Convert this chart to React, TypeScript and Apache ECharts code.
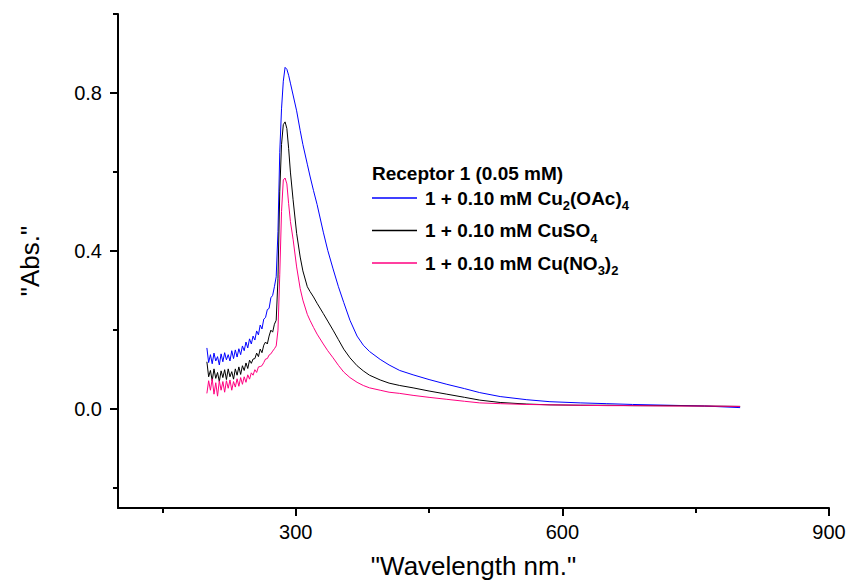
import React, { useEffect, useRef } from "react";
import * as echarts from "echarts";

// Wavelengths (nm)
const wavelengths: number[] = [
  200, 202, 204, 206, 208, 210, 212, 214, 216, 218, 220, 222, 224, 226, 228, 230, 232, 234, 236, 238,
  240, 242, 244, 246, 248, 250, 252, 254, 256, 258, 260, 262, 264, 266, 268, 270, 272, 274, 276, 278,
  280, 282, 284, 286, 288, 290, 292, 294, 297, 301, 305, 308, 313, 316, 320, 324, 331, 336, 342, 348,
  354, 361, 369, 376, 383, 395, 405, 417, 432, 450, 470, 490, 507, 530, 560, 586, 620, 650, 679, 720,
  760, 800,
];

// 1 + 0.10 mM Cu2(OAc)4  (blue)
const absOAc: number[] = [
  0.155, 0.118, 0.138, 0.115, 0.142, 0.122, 0.133, 0.112, 0.14, 0.12, 0.143, 0.125, 0.138, 0.122, 0.148, 0.128, 0.15, 0.132, 0.153, 0.138,
  0.16, 0.148, 0.17, 0.155, 0.178, 0.165, 0.185, 0.175, 0.198, 0.188, 0.213, 0.203, 0.228, 0.232, 0.252, 0.255, 0.282, 0.288, 0.31, 0.335,
  0.45, 0.65, 0.76, 0.83, 0.865, 0.86, 0.845, 0.825, 0.795, 0.755, 0.705, 0.67, 0.62, 0.59, 0.553, 0.518, 0.448, 0.402, 0.355, 0.31,
  0.27, 0.225, 0.185, 0.162, 0.146, 0.126, 0.112, 0.098, 0.087, 0.075, 0.063, 0.052, 0.042, 0.032, 0.024, 0.019, 0.016, 0.014, 0.012, 0.01,
  0.008, 0.004,
];

// 1 + 0.10 mM CuSO4  (black)
const absSO4: number[] = [
  0.12, 0.082, 0.098, 0.072, 0.102, 0.078, 0.093, 0.07, 0.097, 0.08, 0.1, 0.075, 0.102, 0.082, 0.095, 0.076, 0.102, 0.086, 0.107, 0.088,
  0.11, 0.098, 0.117, 0.103, 0.124, 0.116, 0.127, 0.128, 0.142, 0.133, 0.152, 0.143, 0.162, 0.17, 0.165, 0.185, 0.2, 0.195, 0.215, 0.225,
  0.33, 0.55, 0.67, 0.72, 0.727, 0.71, 0.66, 0.6, 0.53, 0.445, 0.385, 0.35, 0.31, 0.298, 0.284, 0.268, 0.242, 0.223, 0.2, 0.176,
  0.152, 0.13, 0.11, 0.097, 0.086, 0.074, 0.066, 0.06, 0.054, 0.046, 0.038, 0.03, 0.023, 0.017, 0.013, 0.011, 0.01, 0.01, 0.009, 0.009,
  0.008, 0.007,
];

// 1 + 0.10 mM Cu(NO3)2  (pink)
const absNO3: number[] = [
  0.04, 0.072, 0.048, 0.077, 0.038, 0.067, 0.033, 0.072, 0.048, 0.07, 0.043, 0.072, 0.053, 0.074, 0.048, 0.07, 0.056, 0.077, 0.058, 0.08,
  0.063, 0.082, 0.068, 0.087, 0.076, 0.092, 0.086, 0.1, 0.093, 0.107, 0.108, 0.11, 0.118, 0.127, 0.128, 0.137, 0.14, 0.147, 0.153, 0.16,
  0.2, 0.34, 0.5, 0.58, 0.585, 0.57, 0.52, 0.475, 0.43, 0.36, 0.305, 0.276, 0.24, 0.225, 0.207, 0.19, 0.165, 0.148, 0.13, 0.111,
  0.094, 0.08, 0.068, 0.06, 0.054, 0.048, 0.043, 0.04, 0.035, 0.03, 0.025, 0.02, 0.016, 0.014, 0.012, 0.011, 0.01, 0.009, 0.009, 0.008,
  0.008, 0.007,
];

const seriesNames: string[] = [
  "1 + 0.10 mM Cu2(OAc)4",
  "1 + 0.10 mM CuSO4",
  "1 + 0.10 mM Cu(NO3)2",
];
const seriesRich: string[] = [
  "1 + 0.10 mM Cu{s|2}(OAc){s|4}",
  "1 + 0.10 mM CuSO{s|4}",
  "1 + 0.10 mM Cu(NO{s|3}){s|2}",
];
const seriesColors: string[] = ["#0000ff", "#000000", "#ff0080"];
const legendTitle = "Receptor 1 (0.05 mM)";

const xMajorTicks: number[] = [300, 600, 900];
const xMinorTicks: number[] = [150, 450, 750];
const yMajorTicks: number[] = [0, 0.4, 0.8];
const yMinorTicks: number[] = [-0.2, 0.2, 0.6, 1.0];

const FONT = "'Liberation Sans', Arial, Helvetica, sans-serif";

export default function App() {
  const ref = useRef<HTMLDivElement>(null);
  useEffect(() => {
    if (!ref.current) return;
    const chart = echarts.init(ref.current, undefined, { renderer: "svg" });
    const allValues = [absOAc, absSO4, absNO3];
    const grid = { left: 118, right: 20, top: 14, bottom: 78 };
    const axisLineStyle = { color: "#000", width: 2 };
    chart.setOption({
      animation: false,
      backgroundColor: "#fff",
      grid,
      xAxis: [
        {
          type: "value",
          min: 100,
          max: 900,
          position: "bottom",
          name: '"Wavelength nm."',
          nameLocation: "middle",
          nameGap: 45,
          nameTextStyle: { fontSize: 26, fontFamily: FONT, color: "#000" },
          axisLine: { show: true, onZero: false, lineStyle: axisLineStyle },
          axisTick: { show: true, customValues: xMajorTicks, length: 8, lineStyle: { width: 2, color: "#000" } },
          axisLabel: { show: true, customValues: xMajorTicks, margin: 14, fontSize: 20, fontFamily: FONT, color: "#000" },
          splitLine: { show: false },
        },
        {
          type: "value",
          min: 100,
          max: 900,
          position: "bottom",
          axisLine: { show: false, onZero: false },
          axisTick: { show: true, customValues: xMinorTicks, length: 5, lineStyle: { width: 2, color: "#000" } },
          axisLabel: { show: false },
          splitLine: { show: false },
        },
      ],
      yAxis: [
        {
          type: "value",
          min: -0.25,
          max: 1.0,
          position: "left",
          name: '"Abs."',
          nameLocation: "middle",
          nameGap: 75,
          nameRotate: 90,
          nameTextStyle: { fontSize: 26, fontFamily: FONT, color: "#000" },
          axisLine: { show: true, onZero: false, lineStyle: axisLineStyle },
          axisTick: { show: true, customValues: yMajorTicks, length: 8, lineStyle: { width: 2, color: "#000" } },
          axisLabel: {
            show: true,
            customValues: yMajorTicks,
            margin: 16,
            fontSize: 20,
            fontFamily: FONT,
            color: "#000",
            formatter: (v: number) => v.toFixed(1),
          },
          splitLine: { show: false },
        },
        {
          type: "value",
          min: -0.25,
          max: 1.0,
          position: "left",
          axisLine: { show: false, onZero: false },
          axisTick: { show: true, customValues: yMinorTicks, length: 5, lineStyle: { width: 2, color: "#000" } },
          axisLabel: { show: false },
          splitLine: { show: false },
        },
      ],
      legend: {
        orient: "vertical",
        left: 372,
        top: 186,
        padding: 0,
        icon: "rect",
        itemWidth: 45,
        itemHeight: 1.5,
        itemGap: 6.5,
        data: seriesNames,
        formatter: (name: string) => seriesRich[seriesNames.indexOf(name)],
        textStyle: {
          fontSize: 19,
          fontWeight: "bold",
          fontFamily: FONT,
          color: "#000",
          lineHeight: 24,
          padding: [0, 0, 0, 3],
          rich: {
            s: {
              fontSize: 13,
              fontWeight: "bold",
              fontFamily: FONT,
              color: "#000",
              verticalAlign: "bottom",
              lineHeight: 24,
              padding: [0, 0, -2, 0],
            },
          },
        },
      },
      graphic: [
        {
          type: "text",
          left: 372,
          top: 164,
          style: {
            text: legendTitle,
            fontSize: 19,
            fontWeight: "bold",
            fontFamily: FONT,
            fill: "#000",
          },
        },
      ],
      series: seriesNames.map((name, i) => ({
        name,
        type: "line",
        xAxisIndex: 0,
        yAxisIndex: 0,
        showSymbol: false,
        symbol: "none",
        color: seriesColors[i],
        lineStyle: { width: 1, color: seriesColors[i] },
        data: wavelengths.map((w, j) => [w, allValues[i][j]]),
      })),
    });
    return () => chart.dispose();
  }, []);
  return (
    <div
      ref={ref}
      style={{ position: "fixed", left: 0, top: 0, width: 849, height: 586, background: "#fff" }}
    />
  );
}
